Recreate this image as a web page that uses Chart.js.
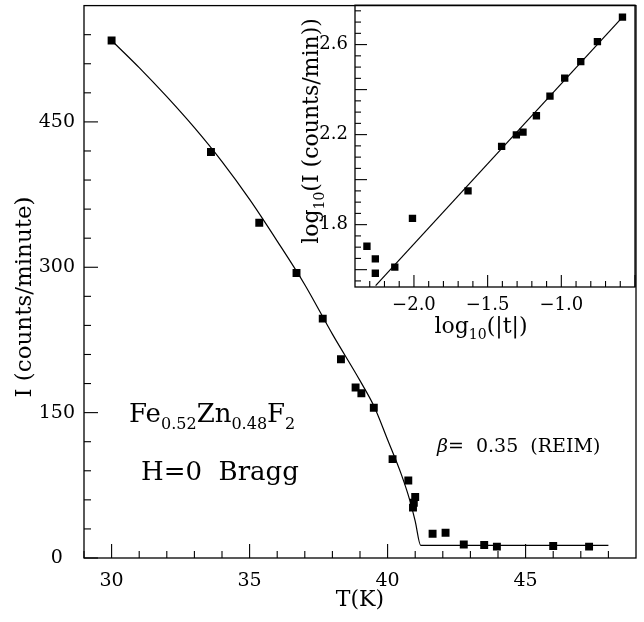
<!DOCTYPE html>
<html>
<head>
<meta charset="utf-8">
<script src="https://cdn.jsdelivr.net/npm/chart.js@4.4.0/dist/chart.umd.min.js"></script>
<style>
  body { margin: 0; background: #fff; }
  #wrap { position: relative; width: 644px; height: 622px; }
  #main { position: absolute; left: 0; top: 0; }
  #inset { position: absolute; left: 288px; top: 0; }
</style>
</head>
<body>
<div id="wrap">
  <canvas id="main" width="644" height="622"></canvas>
  <canvas id="inset" width="356" height="340"></canvas>
</div>
<script>
// main panel: Bragg intensity vs temperature
const tempK = [30.0, 33.6, 35.35, 36.7, 37.65, 38.31, 38.84, 39.05, 39.5, 40.18, 40.75, 41.0, 40.95, 40.92, 41.63, 42.1, 42.76, 43.5, 43.96, 46.0, 47.3];
const counts = [534, 419, 346, 294, 247, 205, 176, 170, 155, 102, 80, 63, 57, 52, 25, 26, 14, 13.4, 11.7, 12.4, 11.7];
// fitted curve
const fitTemp = [30, 31, 32, 33, 34, 35, 36, 37, 38, 39, 39.5, 40, 40.5, 40.8, 41.0, 41.2, 48];
const fitCounts = [534, 506, 476, 444, 409, 370, 327, 282, 231, 183, 157, 122, 86, 60, 38, 13, 13];
const xTicks = [29, 30, 31, 32, 33, 34, 35, 36, 37, 38, 39, 40, 41, 42, 43, 44, 45, 46, 47, 48];
const xLabels = [30, 35, 40, 45];
const yTicks = [0, 30, 60, 90, 120, 150, 180, 210, 240, 270, 300, 330, 360, 390, 420, 450, 480, 510, 540];
const yLabels = [0, 150, 300, 450];

// inset: log-log plot
const logT = [-0.585, -0.755, -0.868, -0.977, -1.077, -1.169, -1.26, -1.305, -1.405, -1.633, -2.01, -2.13, -2.319, -2.262, -2.262];
const logI = [2.722, 2.613, 2.524, 2.451, 2.371, 2.284, 2.211, 2.199, 2.148, 1.95, 1.828, 1.611, 1.704, 1.648, 1.584];
const fitLogT = [-2.26, -0.58];
const fitLogI = [1.529, 2.725];
const insXTicks = [-2.3, -2.2, -2.1, -2.0, -1.9, -1.8, -1.7, -1.6, -1.5, -1.4, -1.3, -1.2, -1.1, -1.0, -0.9, -0.8, -0.7, -0.6, -0.5];
const insXLabels = [-2.0, -1.5, -1.0];
const insYTicks = [1.55, 1.6, 1.65, 1.7, 1.75, 1.8, 1.85, 1.9, 1.95, 2.0, 2.05, 2.1, 2.15, 2.2, 2.25, 2.3, 2.35, 2.4, 2.45, 2.5, 2.55, 2.6, 2.65, 2.7, 2.75];
const insYMajor = [1.6, 1.8, 2.0, 2.2, 2.4, 2.6];
const insYLabels = [1.8, 2.2, 2.6];

const SERIF = '"DejaVu Serif", serif';

function near(list, v) {
  return list.some(a => Math.abs(a - v) < 1e-6);
}

function pts(xs, ys) {
  return xs.map((x, i) => ({ x: x, y: ys[i] }));
}

// draw a run of text pieces, some as subscripts
function drawRich(ctx, parts, x, y, size, align) {
  const subSize = Math.round(size * 0.62);
  let w = 0;
  parts.forEach(p => {
    ctx.font = (p.italic ? 'italic ' : '') + (p.sub ? subSize : size) + 'px ' + SERIF;
    p.w = ctx.measureText(p.t).width;
    w += p.w;
  });
  let cx = align === 'center' ? x - w / 2 : x;
  ctx.textBaseline = 'alphabetic';
  ctx.textAlign = 'left';
  parts.forEach(p => {
    ctx.font = (p.italic ? 'italic ' : '') + (p.sub ? subSize : size) + 'px ' + SERIF;
    ctx.fillText(p.t, cx, p.sub ? y + size * 0.28 : y);
    cx += p.w;
  });
}

const frameTicks = {
  id: 'frameTicks',
  afterDatasetsDraw(chart, args, o) {
    const { ctx, chartArea: a } = chart;
    const x = chart.scales.x, y = chart.scales.y;
    ctx.save();
    ctx.strokeStyle = '#000';
    ctx.lineWidth = 1.3;
    ctx.strokeRect(a.left, a.top, a.right - a.left, a.bottom - a.top);
    ctx.lineWidth = 1.1;
    x.ticks.forEach(t => {
      const px = x.getPixelForValue(t.value);
      const len = near(o.xMajor, t.value) ? o.major : o.minor;
      ctx.beginPath();
      ctx.moveTo(px, a.bottom);
      ctx.lineTo(px, a.bottom - len);
      ctx.stroke();
    });
    y.ticks.forEach(t => {
      const py = y.getPixelForValue(t.value);
      const len = near(o.yMajor, t.value) ? o.major : o.minor;
      ctx.beginPath();
      ctx.moveTo(a.left, py);
      ctx.lineTo(a.left + len, py);
      ctx.stroke();
    });
    ctx.restore();
  }
};

const mainText = {
  id: 'mainText',
  afterDraw(chart) {
    const ctx = chart.ctx;
    ctx.save();
    ctx.fillStyle = '#000';
    drawRich(ctx, [{ t: 'Fe' }, { t: '0.52', sub: true }, { t: 'Zn' }, { t: '0.48', sub: true }, { t: 'F' }, { t: '2', sub: true }], 129, 422, 26);
    drawRich(ctx, [{ t: 'H=0  Bragg' }], 141, 480, 26);
    drawRich(ctx, [{ t: 'β', italic: true }, { t: '=  0.35  (REIM)' }], 437, 452, 19);
    drawRich(ctx, [{ t: 'T(K)' }], 360, 606, 22, 'center');
    ctx.translate(31, 297);
    ctx.rotate(-Math.PI / 2);
    drawRich(ctx, [{ t: 'I (counts/minute)' }], 0, 0, 23, 'center');
    ctx.restore();
  }
};

const insetText = {
  id: 'insetText',
  afterDraw(chart) {
    const ctx = chart.ctx;
    ctx.save();
    ctx.fillStyle = '#000';
    drawRich(ctx, [{ t: 'log' }, { t: '10', sub: true }, { t: '(|t|)' }], 193, 333, 22, 'center');
    ctx.translate(30, 131);
    ctx.rotate(-Math.PI / 2);
    drawRich(ctx, [{ t: 'log' }, { t: '10', sub: true }, { t: '(I (counts/min))' }], 0, 0, 22, 'center');
    ctx.restore();
  }
};

function fixedTicks(list) {
  return scale => { scale.ticks = list.map(v => ({ value: v })); };
}

// pin the axis box size and drop the label overhang padding
function fixBox(prop, size) {
  return s => {
    s[prop] = size;
    s.paddingTop = 0; s.paddingBottom = 0; s.paddingLeft = 0; s.paddingRight = 0;
  };
}

new Chart(document.getElementById('main'), {
  data: {
    datasets: [
      {
        type: 'scatter',
        data: pts(tempK, counts),
        pointStyle: 'rect',
        pointRadius: 5.6,
        backgroundColor: '#000',
        borderWidth: 0,
        order: 1
      },
      {
        type: 'line',
        data: pts(fitTemp, fitCounts),
        borderColor: '#000',
        borderWidth: 1.2,
        pointRadius: 0,
        cubicInterpolationMode: 'monotone',
        fill: false,
        order: 2
      }
    ]
  },
  options: {
    responsive: false,
    animation: false,
    events: [],
    layout: { padding: { left: 0, right: 8, top: 5, bottom: 0 } },
    plugins: { legend: { display: false }, tooltip: { enabled: false }, frameTicks: { xMajor: xLabels, yMajor: yLabels, major: 14, minor: 7 } },
    scales: {
      x: {
        type: 'linear', min: 29, max: 49,
        afterBuildTicks: fixedTicks(xTicks),
        afterFit: fixBox('height', 64),
        grid: { display: false, drawTicks: false },
        border: { display: false },
        ticks: {
          autoSkip: false, maxRotation: 0, padding: 12, color: '#000',
          font: { family: SERIF, size: 19 },
          callback: v => near(xLabels, v) ? String(v) : ''
        }
      },
      y: {
        type: 'linear', min: 0, max: 570,
        afterBuildTicks: fixedTicks(yTicks),
        afterFit: fixBox('width', 84),
        grid: { display: false, drawTicks: false },
        border: { display: false },
        ticks: {
          autoSkip: false, padding: 9, crossAlign: 'center', color: '#000',
          font: { family: SERIF, size: 19 },
          callback: v => near(yLabels, v) ? String(v) : ''
        }
      }
    }
  },
  plugins: [frameTicks, mainText]
});

new Chart(document.getElementById('inset'), {
  data: {
    datasets: [
      {
        type: 'scatter',
        data: pts(logT, logI),
        pointStyle: 'rect',
        pointRadius: 5.2,
        backgroundColor: '#000',
        borderWidth: 0,
        order: 1
      },
      {
        type: 'line',
        data: pts(fitLogT, fitLogI),
        borderColor: '#000',
        borderWidth: 1.2,
        pointRadius: 0,
        fill: false,
        order: 2
      }
    ]
  },
  options: {
    responsive: false,
    animation: false,
    events: [],
    layout: { padding: { left: 0, right: 9, top: 5, bottom: 0 } },
    plugins: { legend: { display: false }, tooltip: { enabled: false }, frameTicks: { xMajor: insXLabels.concat([-0.5]), yMajor: insYMajor, major: 12, minor: 6 } },
    scales: {
      x: {
        type: 'linear', min: -2.4, max: -0.5,
        afterBuildTicks: fixedTicks(insXTicks),
        afterFit: fixBox('height', 53),
        grid: { display: false, drawTicks: false },
        border: { display: false },
        ticks: {
          autoSkip: false, maxRotation: 0, padding: 8, color: '#000',
          font: { family: SERIF, size: 18 },
          callback: v => near(insXLabels, v) ? '\u2212' + Math.abs(v).toFixed(1) : ''
        }
      },
      y: {
        type: 'linear', min: 1.523, max: 2.775,
        afterBuildTicks: fixedTicks(insYTicks),
        afterFit: fixBox('width', 67),
        grid: { display: false, drawTicks: false },
        border: { display: false },
        ticks: {
          autoSkip: false, padding: 7, color: '#000',
          font: { family: SERIF, size: 18 },
          callback: v => near(insYLabels, v) ? v.toFixed(1) : ''
        }
      }
    }
  },
  plugins: [frameTicks, insetText]
});
</script>
</body>
</html>
